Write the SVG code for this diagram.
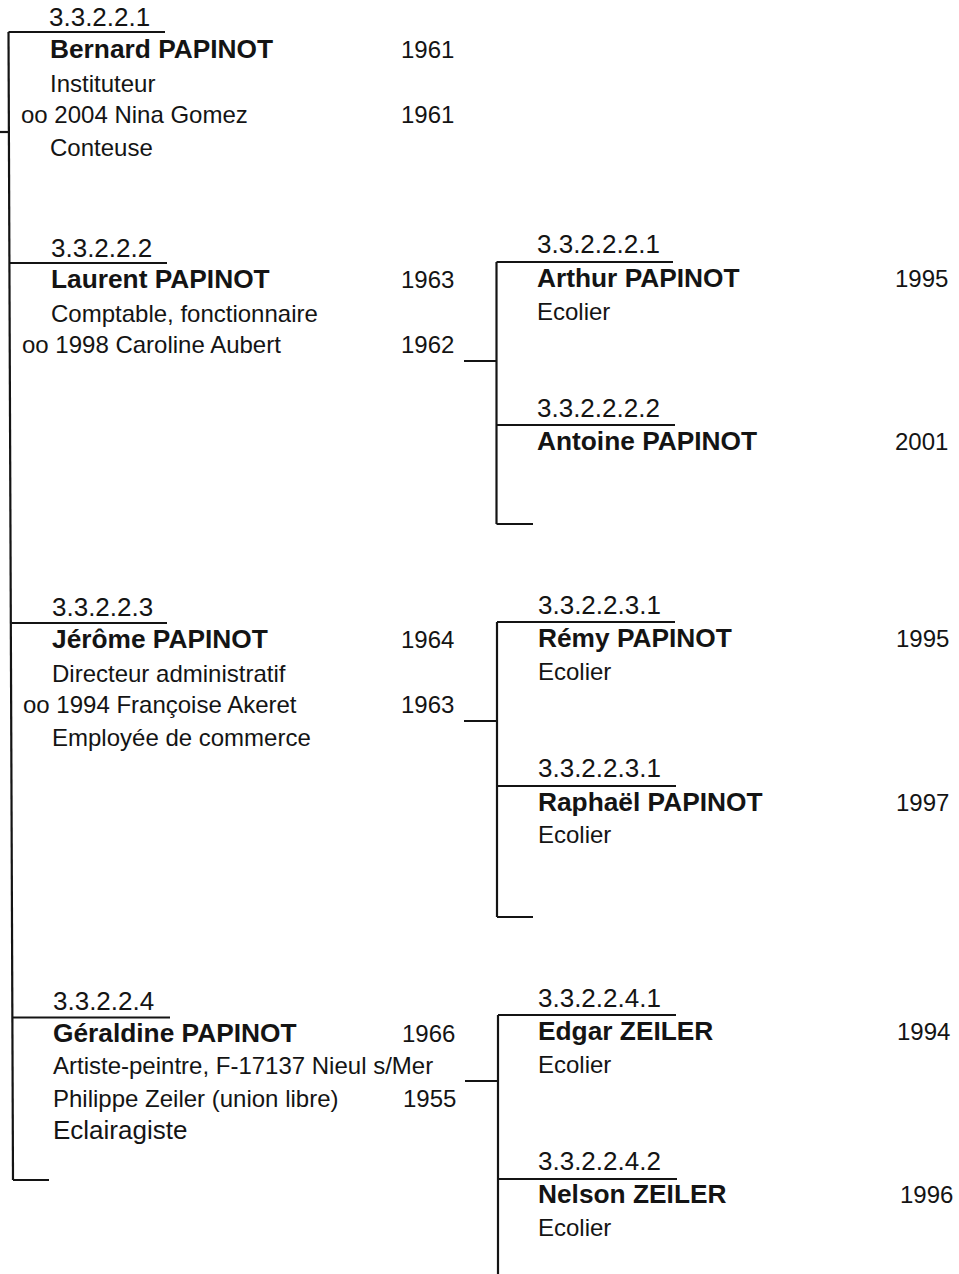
<svg xmlns="http://www.w3.org/2000/svg" width="959" height="1274" viewBox="0 0 959 1274">
<style>
text{font-family:"Liberation Sans",Arial,sans-serif;fill:#141414}
.num{font-size:26px}
.name{font-size:26.3px;font-weight:bold}
.txt{font-size:24px}
.big{font-size:26px}
.ln{stroke:#141414;stroke-width:2.2;fill:none}
</style>
<rect width="959" height="1274" fill="#fff"/>
<g id="connectors" class="ln">
<path d="M8.5 32 L13 1180"/>
<path d="M0 132 H9"/>
<path d="M8.5 32 H165"/>
<path d="M10 263 H167"/>
<path d="M11.5 623 H167"/>
<path d="M13 1017.5 H170"/>
<path d="M13 1180 H49"/>
<path d="M496.5 262 V524"/>
<path d="M496.5 262 H673"/>
<path d="M464 361 H497"/>
<path d="M496.5 425 H675"/>
<path d="M496.5 524 H533"/>
<path d="M497 622 V917"/>
<path d="M497 622 H675"/>
<path d="M464 721 H497"/>
<path d="M497 786 H676"/>
<path d="M497 917 H533"/>
<path d="M498 1015 V1274"/>
<path d="M498 1015 H676"/>
<path d="M465 1081 H498"/>
<path d="M498 1179 H677"/>
</g>
<g id="p3.3.2.2.1">
<text class="num" x="49" y="26">3.3.2.2.1</text>
<text class="name" x="50" y="58">Bernard PAPINOT</text>
<text class="txt" x="401" y="58">1961</text>
<text class="txt" x="50" y="92">Instituteur</text>
<text class="txt" x="21" y="123">oo 2004 Nina Gomez</text>
<text class="txt" x="401" y="123">1961</text>
<text class="txt" x="50" y="156">Conteuse</text>
</g>
<g id="p3.3.2.2.2">
<text class="num" x="51" y="257">3.3.2.2.2</text>
<text class="name" x="51" y="288">Laurent PAPINOT</text>
<text class="txt" x="401" y="288">1963</text>
<text class="txt" x="51" y="322">Comptable, fonctionnaire</text>
<text class="txt" x="22" y="353">oo 1998 Caroline Aubert</text>
<text class="txt" x="401" y="353">1962</text>
</g>
<g id="p3.3.2.2.3">
<text class="num" x="52" y="616">3.3.2.2.3</text>
<text class="name" x="52" y="648">Jérôme PAPINOT</text>
<text class="txt" x="401" y="648">1964</text>
<text class="txt" x="52" y="682">Directeur administratif</text>
<text class="txt" x="23" y="713">oo 1994 Françoise Akeret</text>
<text class="txt" x="401" y="713">1963</text>
<text class="txt" x="52" y="746">Employée de commerce</text>
</g>
<g id="p3.3.2.2.4">
<text class="num" x="53" y="1010">3.3.2.2.4</text>
<text class="name" x="53" y="1042">Géraldine PAPINOT</text>
<text class="txt" x="402" y="1042">1966</text>
<text class="txt" x="53" y="1074">Artiste-peintre, F-17137 Nieul s/Mer</text>
<text class="txt" x="53" y="1107">Philippe Zeiler (union libre)</text>
<text class="txt" x="403" y="1107">1955</text>
<text class="big" x="53" y="1139">Eclairagiste</text>
</g>
<g id="p3.3.2.2.2.1">
<text class="num" x="537" y="253">3.3.2.2.2.1</text>
<text class="name" x="537" y="287">Arthur PAPINOT</text>
<text class="txt" x="895" y="287">1995</text>
<text class="txt" x="537" y="320">Ecolier</text>
</g>
<g id="p3.3.2.2.2.2">
<text class="num" x="537" y="417">3.3.2.2.2.2</text>
<text class="name" x="537" y="450">Antoine PAPINOT</text>
<text class="txt" x="895" y="450">2001</text>
</g>
<g id="p3.3.2.2.3.1a">
<text class="num" x="538" y="614">3.3.2.2.3.1</text>
<text class="name" x="538" y="647">Rémy PAPINOT</text>
<text class="txt" x="896" y="647">1995</text>
<text class="txt" x="538" y="680">Ecolier</text>
</g>
<g id="p3.3.2.2.3.1b">
<text class="num" x="538" y="777">3.3.2.2.3.1</text>
<text class="name" x="538" y="811">Raphaël PAPINOT</text>
<text class="txt" x="896" y="811">1997</text>
<text class="txt" x="538" y="843">Ecolier</text>
</g>
<g id="p3.3.2.2.4.1">
<text class="num" x="538" y="1007">3.3.2.2.4.1</text>
<text class="name" x="538" y="1040">Edgar ZEILER</text>
<text class="txt" x="897" y="1040">1994</text>
<text class="txt" x="538" y="1073">Ecolier</text>
</g>
<g id="p3.3.2.2.4.2">
<text class="num" x="538" y="1170">3.3.2.2.4.2</text>
<text class="name" x="538" y="1203">Nelson ZEILER</text>
<text class="txt" x="900" y="1203">1996</text>
<text class="txt" x="538" y="1236">Ecolier</text>
</g>
</svg>
